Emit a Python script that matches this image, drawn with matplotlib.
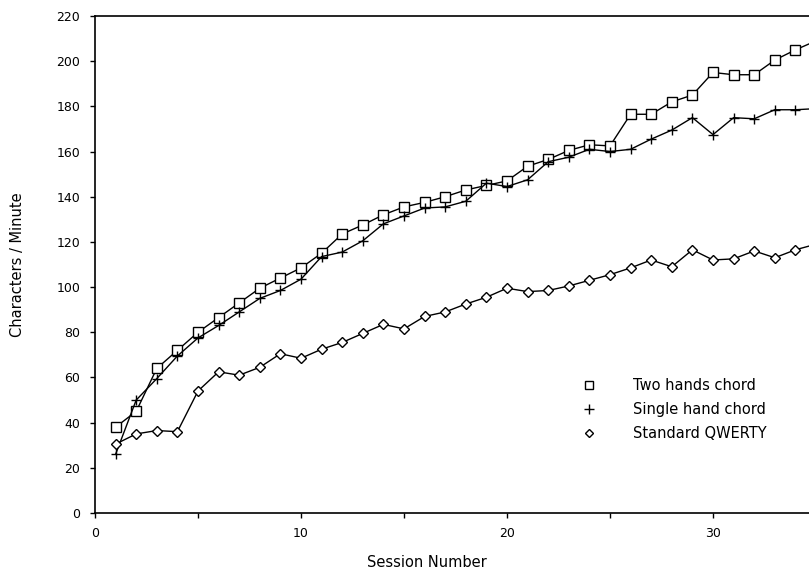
import matplotlib
matplotlib.use("Agg")
import matplotlib.pyplot as plt
import numpy as np

sessions = list(range(1, 36))

# values (session 35 lies just past the right edge)
two_hands = [38, 45, 64, 72, 80, 86.5, 93, 99.5, 104, 108.5, 115, 123.5, 127.5, 132, 135.5,
             137.5, 140, 143, 145, 147, 153.5, 156.5, 160.5, 163, 162.5, 176.5, 176.5, 182,
             185, 195, 194, 194, 200.5, 205, 209]
single_hand = [26, 50, 59.5, 69.5, 77.5, 83, 89, 95, 98.5, 103.5, 113.5, 115.5, 120.5, 128,
               131.5, 135, 135.5, 138, 146, 144.5, 147.5, 155.5, 157.5, 161, 160, 161, 165.5,
               169.5, 175, 167.5, 175, 174.5, 178.5, 178.5, 179]
qwerty = [30.5, 35, 36.5, 36, 54, 62.5, 61, 64.5, 70.5, 68.5, 72.5, 75.5, 79.5, 83.5, 81.5,
          87, 89, 92.5, 95.5, 99.5, 98, 98.5, 100.5, 103, 105.5, 108.5, 112, 109, 116.5,
          112, 112.5, 116, 113, 116.5, 119]

labels = ["Two hands chord", "Single hand chord", "Standard QWERTY"]

fig = plt.figure(figsize=(8.09, 5.71), dpi=100)
ax = fig.add_axes([95/809, 58/571, 1 - 95/809, 497/571])

ax.plot(sessions, two_hands, color="black", lw=1.0, marker="s", ms=6.5,
        mfc="white", mec="black", mew=1.0, label=labels[0])
ax.plot(sessions, single_hand, color="black", lw=1.0, marker="+", ms=7.5,
        mew=1.0, label=labels[1])
ax.plot(sessions, qwerty, color="black", lw=1.0, marker="D", ms=4.8,
        mfc="white", mec="black", mew=1.0, label=labels[2])

ax.set_xlim(0, 34.66)
ax.set_ylim(0, 220)
ax.set_yticks(np.arange(0, 221, 20))
ax.set_xticks([0, 10, 20, 30])
ax.set_xticks([5, 15, 25], minor=True)
ax.tick_params(axis="both", which="both", direction="out", length=3.6, width=1,
               labelsize=9, color="black")
ax.tick_params(axis="x", which="major", pad=6.5)
ax.tick_params(axis="y", which="major", pad=7)

ax.spines["right"].set_visible(False)
for s in ["left", "bottom", "top"]:
    ax.spines[s].set_linewidth(1.2)

ax.set_xlabel("Session Number", fontsize=10.5)
ax.set_ylabel("Characters / Minute", fontsize=10.5)
ax.xaxis.set_label_coords((427 - 95) / 714, -(555 - 513) / 497)
ax.yaxis.set_label_coords(-(95 - 25) / 714, 0.5)

leg = ax.legend(loc="lower left", bbox_to_anchor=(0.674, 0.118), frameon=False,
                fontsize=10.5, handlelength=0, handletextpad=3.0, labelspacing=0.62,
                markerscale=0.9)
for h in leg.legend_handles:
    h.set_linestyle("none")

fig.savefig("out.png", dpi=100)
